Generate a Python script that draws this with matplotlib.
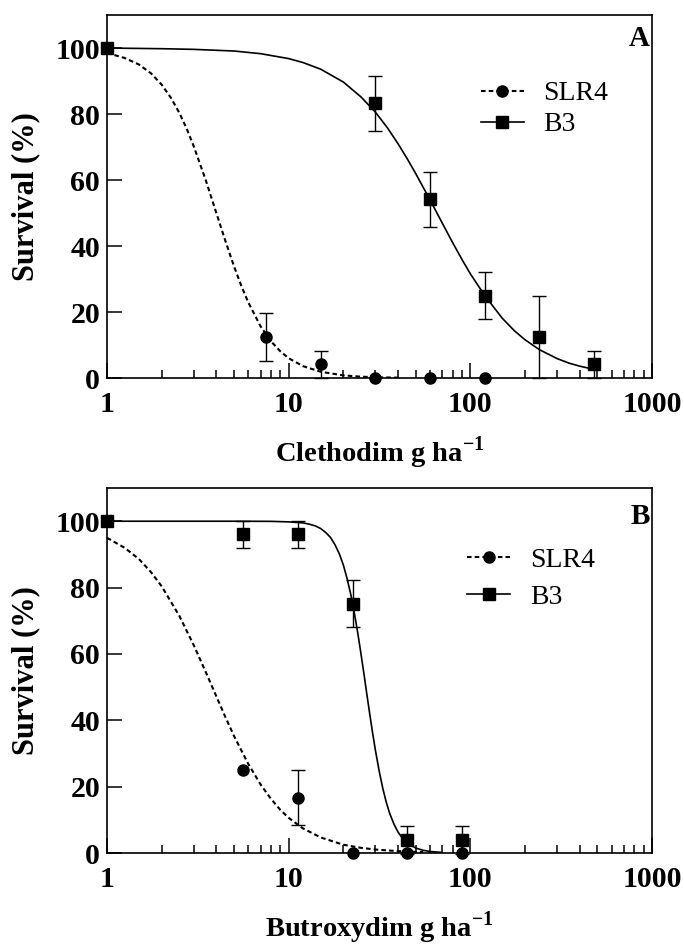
import numpy as np
import matplotlib
matplotlib.use('Agg')
import matplotlib.pyplot as plt
from matplotlib.lines import Line2D
from matplotlib.ticker import LogLocator, NullFormatter

plt.rcParams['font.family'] = 'Liberation Serif'
plt.rcParams['mathtext.fontset'] = 'custom'
plt.rcParams['mathtext.rm'] = 'Liberation Serif'
plt.rcParams['mathtext.bf'] = 'Liberation Serif:bold'

# ---- panel A : clethodim ----
cleth_slr4_dose = [1, 7.5, 15, 30, 60, 120]
cleth_slr4 = [100, 12.5, 4.2, 0, 0, 0]
cleth_slr4_err = [0, 7.2, 4.1, 0, 0, 0]
cleth_b3_dose = [1, 30, 60, 120, 240, 480]
cleth_b3 = [100, 83.3, 54.2, 25.0, 12.5, 4.2]
cleth_b3_err = [0, 8.3, 8.3, 7.1, 12.5, 4.1]

# fitted curves
cleth_slr4_fit_x = [1, 1.25, 1.5, 1.75, 2, 2.25, 2.5, 2.75, 3, 3.5, 4, 4.5, 5, 5.5, 6, 7, 8, 9,
                    10, 12, 15, 20, 25, 30, 40]
cleth_slr4_fit_y = [98.5, 97.0, 95.0, 92.3, 88.9, 84.9, 80.4, 75.5, 70.3, 59.9, 50.0, 41.3,
                    33.9, 27.8, 22.9, 15.7, 11.1, 8.1, 6.0, 3.6, 1.9, 0.8, 0.41, 0.24, 0.1]
cleth_b3_fit_x = [1, 2, 3, 5, 7, 10, 12, 15, 20, 25, 30, 35, 40, 45, 50, 60, 70, 80, 90, 100,
                  120, 150, 175, 200, 240, 300, 350, 400, 480]
cleth_b3_fit_y = [100, 99.8, 99.6, 99.1, 98.3, 96.8, 95.6, 93.6, 89.7, 85.2, 80.6, 75.8, 71.0,
                  66.4, 62.0, 54.0, 47.0, 41.0, 35.9, 31.6, 25.0, 18.1, 14.3, 11.6, 8.6, 5.9,
                  4.5, 3.6, 2.6]

# ---- panel B : butroxydim ----
but_slr4_dose = [1, 5.6, 11.25, 22.5, 45, 90]
but_slr4 = [100, 25.0, 16.6, 0, 0, 0]
but_slr4_err = [0, 0, 8.3, 0, 0, 0]
but_b3_dose = [1, 5.6, 11.25, 22.5, 45, 90]
but_b3 = [100, 96.0, 96.0, 75.2, 4.0, 4.0]
but_b3_err = [0, 4.1, 4.1, 7.2, 4.2, 4.2]

but_slr4_fit_x = [1, 1.25, 1.5, 1.75, 2, 2.5, 3, 3.5, 4, 4.5, 5, 6, 7, 8, 9, 10, 12, 15, 20,
                  25, 30, 40, 50, 55]
but_slr4_fit_y = [95.0, 92.0, 88.6, 84.6, 80.4, 71.5, 62.7, 54.5, 47.2, 40.8, 35.3, 26.8,
                  20.7, 16.3, 13.0, 10.6, 7.4, 4.7, 2.5, 1.56, 1.05, 0.56, 0.35, 0.3]
but_b3_fit_x = [1, 5, 8, 10, 12, 13, 14, 15, 16, 17, 18, 19, 20, 21, 22, 23, 24, 25, 26, 27,
                28, 29, 30, 31.5, 33, 34.5, 36, 38, 40, 42, 45, 50, 55, 60, 70]
but_b3_fit_y = [100, 100, 99.96, 99.8, 99.5, 99.1, 98.6, 97.8, 96.6, 95.1, 92.9, 90.2, 86.8,
                82.6, 77.8, 72.3, 66.4, 60.1, 53.8, 47.5, 41.6, 36.1, 31.1, 24.7, 19.4, 15.2,
                11.9, 8.7, 6.3, 4.7, 3.0, 1.5, 0.82, 0.46, 0.17]

xticks = [1, 10, 100, 1000]
xticklabels = ['1', '10', '100', '1000']
yticks = [0, 20, 40, 60, 80, 100]

DASH = (2.2, 1.5)


def draw_points(ax, dose, val, err, marker, ms):
    dose = np.array(dose)
    val = np.array(val)
    err = np.array(err)
    m = err > 0
    ax.errorbar(dose[m], val[m], yerr=err[m], fmt='none', ecolor='k',
                elinewidth=1.0, capsize=5, capthick=1.0, zorder=3, clip_on=False)
    ax.plot(dose, val, ls='none', marker=marker, ms=ms, color='k', zorder=4, clip_on=False)


def style_axes(ax, xlabel, letter, letter_y, leg_xy, leg_spacing):
    ax.set_xscale('log')
    ax.set_xlim(1, 1000)
    ax.set_ylim(0, 110)
    ax.set_xticks(xticks)
    ax.set_xticklabels(xticklabels, fontweight='bold')
    ax.set_yticks(yticks)
    ax.set_yticklabels([str(t) for t in yticks], fontweight='bold')
    ax.xaxis.set_minor_locator(LogLocator(base=10, subs=range(2, 10)))
    ax.xaxis.set_minor_formatter(NullFormatter())
    ax.tick_params(which='major', direction='in', length=11, width=1.1, labelsize=21.5)
    ax.tick_params(which='minor', direction='in', length=6, width=1.1)
    ax.tick_params(axis='x', which='major', pad=9)
    ax.tick_params(axis='y', which='major', pad=5)
    for s in ax.spines.values():
        s.set_linewidth(1.2)
    ax.set_xlabel(xlabel, fontsize=20.5, fontweight='bold')
    ax.xaxis.label.set_va('baseline')
    ax.set_ylabel('Survival (%)', fontsize=22, fontweight='bold')
    ax.yaxis.set_label_coords(-0.123, 0.5)
    ax.text(0.996, letter_y, letter, transform=ax.transAxes, ha='right', va='top',
            fontsize=21, fontweight='bold')
    handles = [Line2D([], [], color='k', lw=1.5, ls='--', dashes=DASH, marker='o', ms=8),
               Line2D([], [], color='k', lw=1.2, ls='-', marker='s', ms=8)]
    ax.legend(handles, ['SLR4', 'B3'], loc='center left', bbox_to_anchor=leg_xy,
              frameon=False, fontsize=20, handlelength=1.55, handletextpad=0.7,
              labelspacing=leg_spacing, borderpad=0, borderaxespad=0)


fig = plt.figure(figsize=(6.84, 9.46), dpi=100)
ax1 = fig.add_axes([0.1564, 0.6004, 0.7968, 0.3837])
ax2 = fig.add_axes([0.1564, 0.0983, 0.7968, 0.3858])

# panel A
ax1.plot(cleth_slr4_fit_x, cleth_slr4_fit_y, color='k', lw=1.5, ls='--', dashes=DASH, zorder=2)
ax1.plot(cleth_b3_fit_x, cleth_b3_fit_y, color='k', lw=1.2, ls='-', zorder=2)
draw_points(ax1, cleth_slr4_dose, cleth_slr4, cleth_slr4_err, 'o', 8)
draw_points(ax1, cleth_b3_dose, cleth_b3, cleth_b3_err, 's', 8.5)
style_axes(ax1, r'Clethodim g ha$^{\mathbf{-1}}$', 'A', 0.972, (0.686, 0.741), 0.2)
ax1.xaxis.set_label_coords(0.5, -0.231)

# panel B
ax2.plot(but_slr4_fit_x, but_slr4_fit_y, color='k', lw=1.5, ls='--', dashes=DASH, zorder=2)
ax2.plot(but_b3_fit_x, but_b3_fit_y, color='k', lw=1.2, ls='-', zorder=2)
draw_points(ax2, but_slr4_dose, but_slr4, but_slr4_err, 'o', 8)
draw_points(ax2, but_b3_dose, but_b3, but_b3_err, 's', 8.5)
style_axes(ax2, r'Butroxydim g ha$^{\mathbf{-1}}$', 'B', 0.959, (0.661, 0.752), 0.4)
ax2.xaxis.set_label_coords(0.5, -0.228)

fig.savefig('out.png', dpi=100)
